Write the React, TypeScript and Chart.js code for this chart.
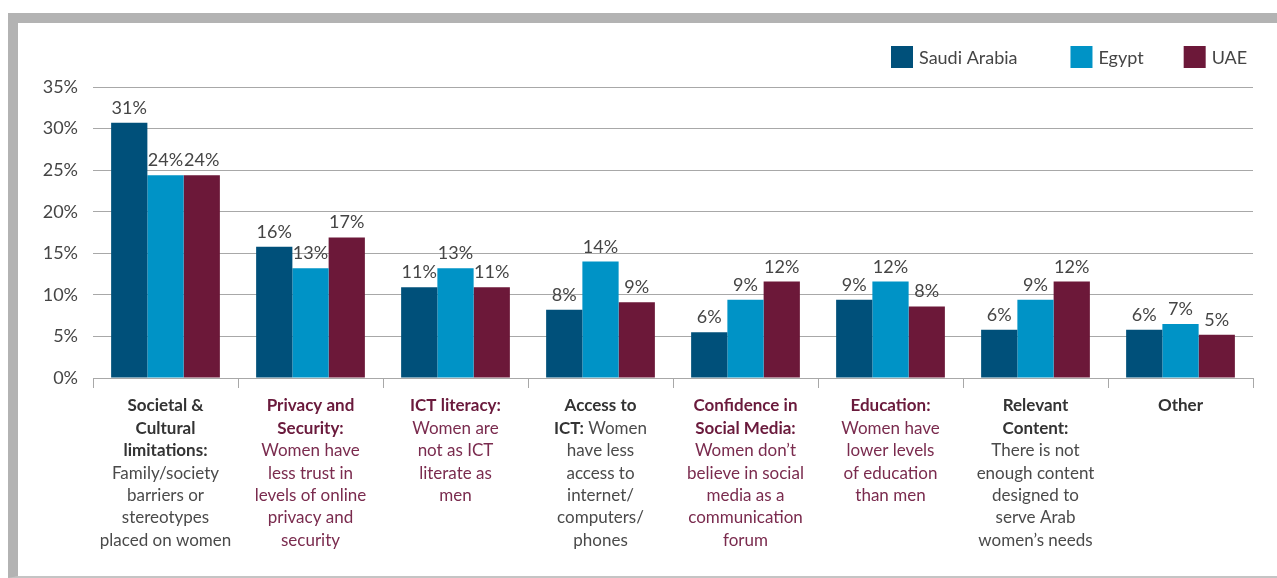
import React, { useEffect, useRef } from "react";
import { Chart, registerables } from "chart.js";

Chart.register(...registerables);

// ---- data ----
const categoryNames = [
  "Societal & Cultural limitations",
  "Privacy and Security",
  "ICT literacy",
  "Access to ICT",
  "Confidence in Social Media",
  "Education",
  "Relevant Content",
  "Other",
];

const categoryLines: string[][] = [
  ["**Societal &**", "**Cultural**", "**limitations:**", "Family/society", "barriers or", "stereotypes", "placed on women"],
  ["**Privacy and**", "**Security:**", "Women have", "less trust in", "levels of online", "privacy and", "security"],
  ["**ICT literacy:**", "Women are", "not as ICT", "literate as", "men"],
  ["**Access to**", "**ICT:** Women", "have less", "access to", "internet/", "computers/", "phones"],
  ["**Confidence in**", "**Social Media:**", "Women don\u2019t", "believe in social", "media as a", "communication", "forum"],
  ["**Education:**", "Women have", "lower levels", "of education", "than men"],
  ["**Relevant**", "**Content:**", "There is not", "enough content", "designed to", "serve Arab", "women\u2019s needs"],
  ["**Other**"],
];

const categoryTone = ["dark", "maroon", "maroon", "dark", "maroon", "maroon", "dark", "dark"];

const seriesNames = ["Saudi Arabia", "Egypt", "UAE"];

const saudiArabia = [30.7, 15.8, 10.9, 8.2, 5.5, 9.4, 5.8, 5.8];
const egypt = [24.4, 13.2, 13.2, 14.0, 9.4, 11.6, 9.4, 6.5];
const uae = [24.4, 16.9, 10.9, 9.1, 11.6, 8.6, 11.6, 5.2];

const saudiLabels = ["31%", "16%", "11%", "8%", "6%", "9%", "6%", "6%"];
const egyptLabels = ["24%", "13%", "13%", "14%", "9%", "12%", "9%", "7%"];
const uaeLabels = ["24%", "17%", "11%", "9%", "12%", "8%", "12%", "5%"];

const yMin = 0;
const yMax = 35;
const yStep = 5;

// ---- styles ----
const FONT = "Lato, 'Noto Sans', sans-serif";
const TEXT = "#454545";
const MAROON_BOLD = "#6a1a3c";
const MAROON = "#7a2b4e";
const DARK_BOLD = "#333333";
const DARK = "#4a4a4a";
const GRID = "#a8a8a8";
const colors = ["#00507a", "#0093c6", "#6c1839"];
const legendGaps = [53, 40, 0];

const valueLabels = [saudiLabels, egyptLabels, uaeLabels];

const dataLabelPlugin = {
  id: "dataLabels",
  afterDatasetsDraw(chart: any) {
    const ctx = chart.ctx;
    ctx.save();
    ctx.font = `18px ${FONT}`;
    ctx.fillStyle = TEXT;
    ctx.textAlign = "center";
    ctx.textBaseline = "alphabetic";
    chart.data.datasets.forEach((ds: any, di: number) => {
      const meta = chart.getDatasetMeta(di);
      meta.data.forEach((el: any, i: number) => {
        ctx.fillText(valueLabels[di][i], el.x, el.y - 9);
      });
    });
    ctx.restore();
  },
};

const categoryLabelPlugin = {
  id: "categoryLabels",
  afterDraw(chart: any) {
    const ctx = chart.ctx;
    const xs = chart.scales.x;
    const top = chart.chartArea.bottom + 28;
    const lh = 22.4;
    ctx.save();
    ctx.textBaseline = "middle";
    ctx.textAlign = "left";
    categoryLines.forEach((lines, i) => {
      const cx = xs.getPixelForTick(i);
      const maroon = categoryTone[i] === "maroon";
      lines.forEach((line, li) => {
        const segs: { t: string; b: boolean }[] = [];
        const re = /\*\*(.*?)\*\*/g;
        let last = 0;
        let m: RegExpExecArray | null;
        while ((m = re.exec(line))) {
          if (m.index > last) segs.push({ t: line.slice(last, m.index), b: false });
          segs.push({ t: m[1], b: true });
          last = m.index + m[0].length;
        }
        if (last < line.length) segs.push({ t: line.slice(last), b: false });
        let total = 0;
        const widths = segs.map((s) => {
          ctx.font = `${s.b ? "bold " : ""}17px ${FONT}`;
          const w = ctx.measureText(s.t).width;
          total += w;
          return w;
        });
        let x = cx - total / 2;
        const y = top + li * lh;
        segs.forEach((s, si) => {
          ctx.font = `${s.b ? "bold " : ""}17px ${FONT}`;
          ctx.fillStyle = maroon ? (s.b ? MAROON_BOLD : MAROON) : s.b ? DARK_BOLD : DARK;
          ctx.fillText(s.t, x, y);
          x += widths[si];
        });
      });
    });
    ctx.restore();
  },
};

const legendPlugin = {
  id: "customLegend",
  afterDraw(chart: any) {
    const ctx = chart.ctx;
    ctx.save();
    ctx.font = `18px ${FONT}`;
    ctx.textBaseline = "middle";
    ctx.textAlign = "left";
    let x = 873;
    const y = 23;
    chart.data.datasets.forEach((ds: any, i: number) => {
      ctx.fillStyle = ds.backgroundColor;
      ctx.fillRect(x, y, 22, 22);
      ctx.fillStyle = TEXT;
      const tx = x + 28;
      ctx.fillText(ds.label, tx, y + 12);
      x = tx + ctx.measureText(ds.label).width + legendGaps[i];
    });
    ctx.restore();
  },
};

export default function App() {
  const ref = useRef<HTMLCanvasElement | null>(null);

  useEffect(() => {
    if (!ref.current) return;
    const chart = new Chart(ref.current, {
      type: "bar",
      data: {
        labels: categoryNames,
        datasets: [saudiArabia, egypt, uae].map((d, i) => ({
          label: seriesNames[i],
          data: d,
          backgroundColor: colors[i],
          borderWidth: 0,
        })),
      },
      options: {
        responsive: false,
        animation: false,
        layout: { padding: { top: 64, right: 24, left: 0, bottom: 0 } },
        datasets: { bar: { categoryPercentage: 0.75, barPercentage: 1 } },
        plugins: { legend: { display: false }, tooltip: { enabled: false } },
        scales: {
          x: {
            grid: {
              display: true,
              drawOnChartArea: false,
              drawTicks: true,
              tickLength: 10,
              color: GRID,
              offset: true,
            },
            border: { display: true, color: GRID },
            ticks: { display: false },
            afterFit: (s: any) => {
              s.height = 198;
            },
          },
          y: {
            min: yMin,
            max: yMax,
            ticks: {
              stepSize: yStep,
              callback: (v: any) => `${v}%`,
              font: { family: FONT, size: 18 },
              color: TEXT,
              padding: 15,
            },
            grid: { color: GRID, drawTicks: false },
            border: { display: false },
            afterFit: (s: any) => {
              s.width = 75;
            },
          },
        },
      } as any,
      plugins: [dataLabelPlugin, categoryLabelPlugin, legendPlugin],
    });
    return () => chart.destroy();
  }, []);

  return (
    <>
      <style>{"html,body{margin:0;overflow:hidden;background:#fff}"}</style>
      <div
        style={{
          position: "absolute",
          left: 8,
          top: 13,
          width: 1269,
          height: 565,
          boxSizing: "border-box",
          borderTop: "10px solid #b3b3b3",
          borderLeft: "10px solid #b3b3b3",
          borderBottom: "2px solid #c4c4c4",
        }}
      >
        <canvas
          ref={ref}
          width={1259}
          height={553}
          style={{ position: "absolute", left: 0, top: 0, display: "block" }}
        />
      </div>
    </>
  );
}
